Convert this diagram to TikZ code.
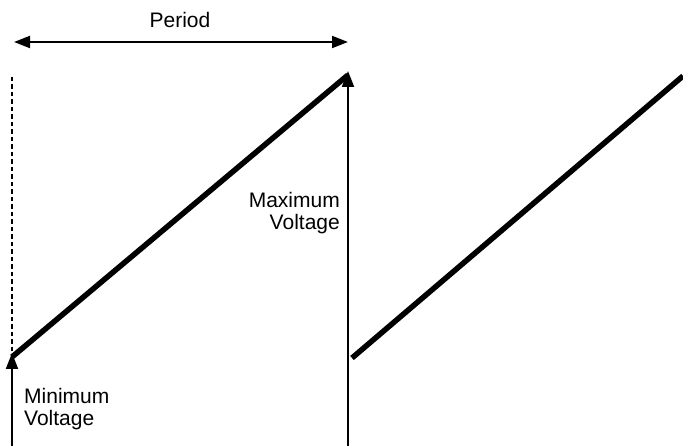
\documentclass[tikz,border=0pt]{standalone}
\usepackage{fontspec}
\setmainfont{Liberation Sans}
\usetikzlibrary{arrows.meta}

\begin{document}
\begin{tikzpicture}[x=1pt,y=-1pt,
  ramp/.style={line width=5.5pt},
  marker/.style={line width=2pt,-{Triangle[length=16pt,width=12pt]}},
  lbl/.style={font=\fontsize{21}{22.5}\selectfont,inner sep=0pt,align=left}]
\clip (0,0) rectangle (683,446);
% periods
\coordinate (p0) at (14,42);
\coordinate (p1) at (348,42);
\draw[line width=2pt,{Triangle[length=16pt,width=12pt]}-{Triangle[length=16pt,width=12pt]}] (p0) -- (p1);
\path (180,12) node[lbl,anchor=north] (per) {Period};
% first ramp
\coordinate (lo1) at (12,357);
\coordinate (hi1) at (348,75);
\draw[line width=1.5pt,dash pattern=on 4.5pt off 3pt] (12,77) -- (lo1);
\draw[ramp] (lo1) -- (hi1);
% second ramp (runs off the right edge)
\coordinate (lo2) at (352,358);
\coordinate (hi2) at (683,76);
\draw[ramp] (lo2) -- (hi2);
% voltage markers
\coordinate (b0) at (12,446);
\coordinate (b1) at (348,446);
\draw[marker] (b0) -- ([yshift=4pt]lo1);
\draw[marker] (b1) -- ([yshift=4pt]hi1);
\path (24,388) node[lbl,anchor=north west] (vmin) {Minimum\\Voltage};
\path (340,192) node[lbl,anchor=north east,align=right] (vmax) {Maximum\\Voltage};
\end{tikzpicture}
\end{document}
